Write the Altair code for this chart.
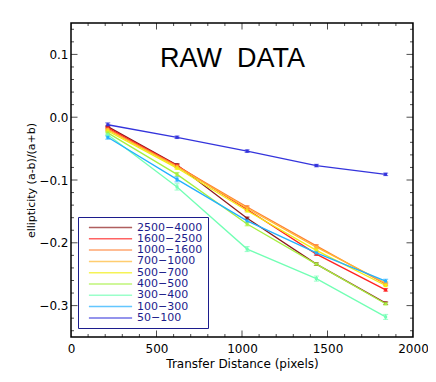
import altair as alt
import pandas as pd

# ---- data ----
distance = [215, 620, 1030, 1435, 1840]

series_names = ["2500-4000", "1600-2500", "1000-1600", "700-1000", "500-700",
                "400-500", "300-400", "100-300", "50-100"]
series_colors = ["#8e1c1c", "#ff2222", "#ff8033", "#ffb833", "#f2ee10",
                 "#a6f040", "#72ffb4", "#22b0ff", "#3434dc"]

e_2500_4000 = [-0.015, -0.076, -0.161, -0.234, -0.296]
e_1600_2500 = [-0.017, -0.077, -0.147, -0.218, -0.275]
e_1000_1600 = [-0.019, -0.078, -0.143, -0.205, -0.266]
e_700_1000 = [-0.020, -0.079, -0.145, -0.207, -0.264]
e_500_700 = [-0.022, -0.081, -0.149, -0.212, -0.268]
e_400_500 = [-0.025, -0.091, -0.170, -0.234, -0.297]
e_300_400 = [-0.028, -0.111, -0.210, -0.257, -0.318]
e_100_300 = [-0.032, -0.099, -0.165, -0.216, -0.261]
e_50_100 = [-0.012, -0.032, -0.054, -0.077, -0.091]

err_2500_4000 = [0.002, 0.002, 0.002, 0.002, 0.002]
err_1600_2500 = [0.002, 0.002, 0.002, 0.002, 0.002]
err_1000_1600 = [0.002, 0.002, 0.002, 0.002, 0.002]
err_700_1000 = [0.002, 0.002, 0.002, 0.002, 0.002]
err_500_700 = [0.002, 0.002, 0.002, 0.002, 0.002]
err_400_500 = [0.002, 0.003, 0.003, 0.002, 0.002]
err_300_400 = [0.003, 0.005, 0.004, 0.004, 0.004]
err_100_300 = [0.003, 0.004, 0.003, 0.003, 0.003]
err_50_100 = [0.003, 0.002, 0.002, 0.002, 0.002]

x_labels = [0, 500, 1000, 1500, 2000]
y_labels = [-0.3, -0.2, -0.1, 0.0, 0.1]
x_minor = [100, 200, 300, 400, 600, 700, 800, 900, 1100, 1200, 1300, 1400,
           1600, 1700, 1800, 1900]
y_minor = [-0.34, -0.32, -0.28, -0.26, -0.24, -0.22, -0.18, -0.16, -0.14, -0.12,
           -0.08, -0.06, -0.04, -0.02, 0.02, 0.04, 0.06, 0.08, 0.12, 0.14]

title_text = "RAW\u00a0 DATA"
title_pos = [944, 0.0794]

# ---- build table ----
vals = [e_2500_4000, e_1600_2500, e_1000_1600, e_700_1000, e_500_700,
        e_400_500, e_300_400, e_100_300, e_50_100]
errs = [err_2500_4000, err_1600_2500, err_1000_1600, err_700_1000, err_500_700,
        err_400_500, err_300_400, err_100_300, err_50_100]
rows = []
for name, v, e in zip(series_names, vals, errs):
    for x, y, d in zip(distance, v, e):
        rows.append({"x": x, "y": y, "lo": y - d, "hi": y + d, "s": name})
df = pd.DataFrame(rows)

XMIN, XMAX = 0, 2000
YMIN, YMAX = -0.35, 0.15
xs = alt.Scale(domain=[XMIN, XMAX], nice=False, zero=False)
ys = alt.Scale(domain=[YMIN, YMAX], nice=False, zero=False)
navy = "#1c1c8c"
FONT = "DejaVu Sans"
XT = "Transfer Distance (pixels)"
YT = "ellipticity (a-b)/(a+b)"

xaxis = alt.Axis(values=x_labels, format="d", ticks=False, domain=False, grid=False,
                 labelPadding=6, labelFontSize=12, labelFont=FONT, labelColor="black",
                 title=XT, titleFont=FONT, titleFontSize=12,
                 titleFontWeight="normal", titleColor="black", titlePadding=4,
                 labelFlush=False)
yaxis = alt.Axis(values=y_labels, format=".1f", ticks=False, domain=False, grid=False,
                 labelPadding=3, labelFontSize=12, labelFont=FONT, labelColor="black",
                 labelExpr="replace(datum.label, '-', '\u2212')",
                 title=YT, titleFont=FONT, titleFontSize=11,
                 titleFontWeight="normal", titleColor="black", titlePadding=2,
                 labelFlush=False)

X = alt.X("x:Q", scale=xs, axis=xaxis, title=XT)
Y = alt.Y("y:Q", scale=ys, axis=yaxis, title=YT)
color = alt.Color("s:N", scale=alt.Scale(domain=series_names, range=series_colors),
                  sort=series_names,
                  legend=alt.Legend(title=None, orient="none", legendX=7, legendY=194,
                                    symbolType="M-4.8,0L4.8,0", symbolSize=81,
                                    symbolStrokeWidth=1.5, labelColor=navy,
                                    labelFontSize=11, labelFont=FONT,
                                    labelExpr="replace(datum.label, '-', '\u2212')",
                                    strokeColor=navy, fillColor="white",
                                    padding=5, rowPadding=-0.7, symbolOffset=22,
                                    labelOffset=21, cornerRadius=0))

base = alt.Chart(df)
lines = base.mark_line(strokeWidth=1.3).encode(x=X, y=Y, color=color,
                                               order=alt.Order("x:Q"))
pts = base.mark_square(size=9, opacity=1, filled=True).encode(x=X, y=Y, color=color)
ebars = base.mark_rule(strokeWidth=1).encode(
    x=X, y=alt.Y("lo:Q", scale=ys, axis=yaxis, title=YT), y2="hi:Q", color=color)
cap_lo = base.mark_tick(orient="horizontal", size=5, thickness=1).encode(
    x=X, y=alt.Y("lo:Q", scale=ys, axis=yaxis, title=YT), color=color)
cap_hi = base.mark_tick(orient="horizontal", size=5, thickness=1).encode(
    x=X, y=alt.Y("hi:Q", scale=ys, axis=yaxis, title=YT), color=color)

# frame ticks (inward)
xt = pd.DataFrame(
    [{"x": v, "y": YMIN, "k": "maj"} for v in x_labels] +
    [{"x": v, "y": YMAX, "k": "maj"} for v in x_labels] +
    [{"x": v, "y": YMIN, "k": "min"} for v in x_minor] +
    [{"x": v, "y": YMAX, "k": "min"} for v in x_minor])
yt = pd.DataFrame(
    [{"x": XMIN, "y": v, "k": "maj"} for v in y_labels] +
    [{"x": XMAX, "y": v, "k": "maj"} for v in y_labels] +
    [{"x": XMIN, "y": v, "k": "min"} for v in y_minor] +
    [{"x": XMAX, "y": v, "k": "min"} for v in y_minor])
tsize = alt.Size("k:N", scale=alt.Scale(domain=["maj", "min"], range=[13, 6]), legend=None)
xticks = alt.Chart(xt).mark_tick(orient="vertical", thickness=1, color="black", clip=True).encode(
    x=X, y=Y, size=tsize)
yticks = alt.Chart(yt).mark_tick(orient="horizontal", thickness=1, color="black", clip=True).encode(
    x=X, y=Y, size=tsize)

title_df = pd.DataFrame([{"x": title_pos[0], "y": title_pos[1], "t": title_text}])
title = alt.Chart(title_df).mark_text(font="Liberation Sans", fontSize=27, color="black",
                                      align="center", baseline="alphabetic").encode(
    x=X, y=Y, text="t:N")

chart = alt.layer(xticks, yticks, ebars, cap_lo, cap_hi, lines, pts, title).properties(
    width=342, height=314,
    autosize=alt.AutoSizeParams(type="none"),
    padding={"left": 63, "top": 15, "right": 15, "bottom": 37},
    background="white",
).configure_view(stroke="black", strokeWidth=1.5)

chart.save("out.html", embed_options={"renderer": "svg", "actions": False})
